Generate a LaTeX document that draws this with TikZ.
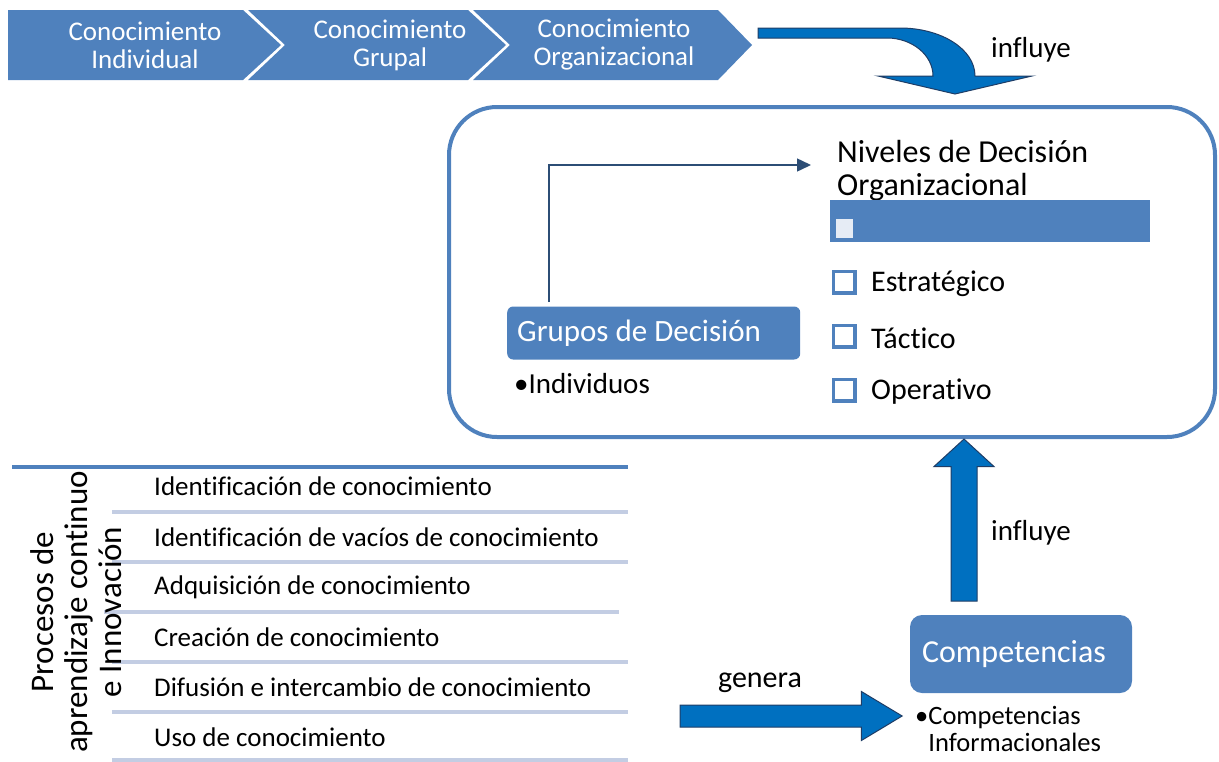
\documentclass[tikz,border=0pt]{standalone}
\usepackage{fontspec}
\setmainfont{Carlito}[Ligatures=CommonOff]
\usetikzlibrary{shapes.arrows,arrows.meta}

\definecolor{boxblue}{HTML}{4F81BD}
\definecolor{arrowblue}{HTML}{0070C0}
\definecolor{arrowedge}{HTML}{1F3D66}
\definecolor{linkblue}{HTML}{2C4D75}
\definecolor{rulegray}{HTML}{C3CDE3}
\definecolor{paleblue}{HTML}{E6ECF5}

\tikzset{
  chevtext/.style={text=white, align=center, font=\fontsize{27}{28}\selectfont},
  frame/.style={draw=boxblue, line width=4pt, rounded corners=48pt},
  bluebox/.style={fill=boxblue, text=white, font=\fontsize{31}{34}\selectfont},
  checkbox/.style={draw=boxblue, line width=3.5pt, fill=white, minimum size=21.5pt, inner sep=0pt},
  level/.style={font=\fontsize{30}{33}\selectfont, anchor=west, inner sep=0pt},
  plain/.style={font=\fontsize{29}{30}\selectfont, inner sep=0pt},
  proc/.style={font=\fontsize{27}{28}\selectfont, anchor=west, inner sep=0pt},
  blockarrow/.style={fill=arrowblue, draw=arrowedge, line width=1pt},
  link/.style={draw=linkblue, line width=1.5pt, -{Triangle[length=14pt,width=13pt]}},
}

\begin{document}
\begin{tikzpicture}[x=1pt,y=-1pt]
\useasboundingbox (0,0) rectangle (1219,761);

% chevron row
\fill[boxblue] (8,10) -- (243,10) -- (281,45) -- (243,80) -- (8,80) -- cycle;
\fill[boxblue] (248,10) -- (468,10) -- (506,45) -- (468,80) -- (248,80) -- (285,45) -- cycle;
\fill[boxblue] (473,10) -- (718,10) -- (752,45) -- (718,80) -- (473,80) -- (510,45) -- cycle;
\node[chevtext] (conIndiv) at (145,45) {Conocimiento\\Individual};
\node[chevtext] (conGrupal) at (390,45) {Conocimiento\\Grupal};
\node[chevtext] (conOrgan) at (614,45) {Conocimiento\\Organizacional};

% curved arrow down
\filldraw[blockarrow] (758,28) -- (900,28) .. controls (941,28) and (975,49) .. (975,76)
  -- (1032,76) -- (955,94) -- (878,76) -- (933,76)
  .. controls (933,55) and (912,38) .. (887,38) -- (758,38) -- cycle;
\node[plain] (influyeTop) at (1031,50) {influye};

% decision frame
\node[frame, minimum width=766pt, minimum height=330pt] (frame) at (832,272) {};
\node[level, align=left, font=\fontsize{32}{33}\selectfont] (niveles) at (837,171)
  {Niveles de Decisión\\Organizacional};
\node[fill=boxblue, minimum width=320pt, minimum height=42pt, inner sep=0pt] (bar) at (990,221) {};
\node[fill=paleblue, minimum width=17pt, minimum height=19pt, inner sep=0pt] (barBox) at (844,228) {};
\foreach \y/\name/\txt in {282/estr/Estratégico, 336/tact/Táctico, 390/oper/Operativo}{
  \node[checkbox] (box\name) at (844,\y) {};
  \node[level] (\name) at (871,\y+2) {\txt};
}
\node[bluebox, anchor=west, rounded corners=6pt, minimum width=293pt, minimum height=53pt]
  (grupos) at (507,333) {\makebox[273pt][l]{Grupos de Decisión}};
\node[plain, anchor=west] (individuos) at (514,384) {•Individuos};
\coordinate (linkStart) at (549,302);
\draw[link, shorten >=26pt] (linkStart) |- ([yshift=6pt]niveles.west);

% competencias
\node[bluebox, rounded corners=12pt, minimum width=222pt, minimum height=78pt, font=\fontsize{32}{34}\selectfont]
  (compet) at (1021,654) {\makebox[198pt][l]{Competencias}};
\node[plain, anchor=north west, font=\fontsize{26.5}{27}\selectfont] (competList) at (915,705)
  {•\begin{tabular}[t]{@{}l@{}}Competencias\\[0pt]Informacionales\end{tabular}};
\node[blockarrow, single arrow, rotate=90, minimum height=162pt, inner xsep=0pt, inner ysep=12.5pt,
  single arrow head extend=17pt, single arrow tip angle=95] (upArrow) at (964,526) {};
\node[plain] (influyeUp) at (1031,533) {influye};

% processes table
\draw[boxblue, line width=4pt] (12,467) -- (628,467);
\foreach \y/\xa/\xb in {512/112/628, 562/112/628, 612/104/619, 662/112/628, 712/112/628, 760/112/628}
  \draw[rulegray, line width=4pt] (\xa,\y) -- (\xb,\y);
\foreach \y/\txt in {486/Identificación de conocimiento, 537/Identificación de vacíos de conocimiento,
  587/Adquisición de conocimiento, 637/Creación de conocimiento,
  687/Difusión e intercambio de conocimiento, 737/Uso de conocimiento}
  \node[proc] at (154,\y) {\txt};
\node[rotate=90, align=center, font=\fontsize{33}{34}\selectfont] (procesos) at (76,612)
  {Procesos de\\aprendizaje continuo\\e Innovación};

\node[blockarrow, single arrow, minimum height=222pt, inner xsep=0pt, inner ysep=10.5pt,
  single arrow head extend=13.5pt, single arrow tip angle=62] (generaArrow) at (782,716) {};
\node[plain, font=\fontsize{30}{30}\selectfont] (genera) at (760,683) {genera};
\end{tikzpicture}
\end{document}
